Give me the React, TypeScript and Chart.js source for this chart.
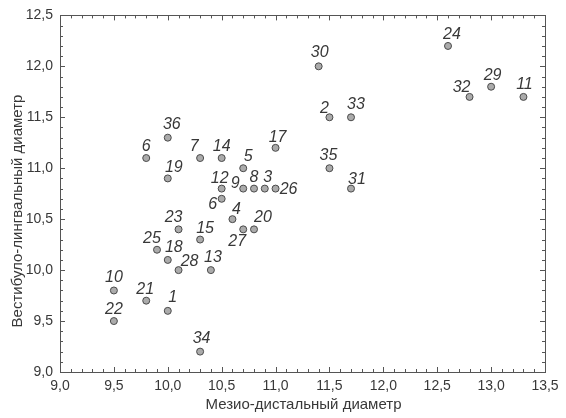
import React, { useEffect, useRef } from "react";
import { Chart, registerables } from "chart.js";

Chart.register(...registerables);

// ---- data ----
const POINT_LABELS = ["1","2","3","4","5","6","6","7","8","9","10","11","12","13","14","15","17","18","19","20","21","22","23","24","25","26","27","28","29","30","31","32","33","34","35","36"];
const X_VALUES = [10.0,11.5,10.9,10.6,10.7,9.8,10.5,10.3,10.8,10.7,9.5,13.3,10.5,10.4,10.5,10.3,11.0,10.0,10.0,10.8,9.8,9.5,10.1,12.6,9.9,11.0,10.7,10.1,13.0,11.4,11.7,12.8,11.7,10.3,11.5,10.0];
const Y_VALUES = [9.6,11.5,10.8,10.5,11.0,11.1,10.7,11.1,10.8,10.8,9.8,11.7,10.8,10.0,11.1,10.3,11.2,10.1,10.9,10.4,9.7,9.5,10.4,12.2,10.2,10.8,10.4,10.0,11.8,12.0,10.8,11.7,11.5,9.2,11.0,11.3];
const X_TICKS = [9.0,9.5,10.0,10.5,11.0,11.5,12.0,12.5,13.0,13.5];
const Y_TICKS = [9.0,9.5,10.0,10.5,11.0,11.5,12.0,12.5];
const X_TITLE = "Мезио-дистальный диаметр";
const Y_TITLE = "Вестибуло-лингвальный диаметр";

// ---- label placement (style, relative offsets in px: [dx, baseline dy]) ----
const LABEL_OFFSETS: [number, number][] = [
  [5,-8.6],[-5,-4.6],[3,-6.6],[4,-5],[5,-7],[0,-6.7],[-9,10],[-6,-6.7],[0,-6.6],[-8,-1],
  [0,-8],[1,-8],[-2,-6],[2,-8],[0,-6.7],[5,-7],[2,-6.3],[6,-7.6],[6,-6],[9,-7],
  [-1,-7],[0,-7],[-5,-7],[4,-7],[-5,-7],[13,5],[-6,17],[11,-4],[1.5,-7],[1,-9],
  [6,-5],[-8,-4.6],[5,-8.6],[1.5,-8.6],[-1,-8.4],[4,-8.7]
];

const FONT = "'Liberation Sans', Arial, sans-serif";
const AXIS_COLOR = "#555555";
const TEXT_COLOR = "#383838";

const fmt = (v: number) => v.toFixed(1).replace(".", ",");

const framePlugin = {
  id: "frameAndLabels",
  beforeDatasetsDraw(chart: any) {
    const { ctx, chartArea: a, scales } = chart;
    const xs = scales.x, ys = scales.y;
    ctx.save();
    ctx.strokeStyle = AXIS_COLOR;
    ctx.lineWidth = 1;
    ctx.strokeRect(Math.round(a.left) + 0.5, Math.round(a.top) + 0.5, Math.round(a.right - a.left), Math.round(a.bottom - a.top));
    ctx.beginPath();
    for (let i = 0; i <= 45; i++) {
      const v = 9 + i * 0.1;
      const major = i % 5 === 0;
      const len = major ? 5 : 3;
      const px = Math.round(xs.getPixelForValue(v)) + 0.5;
      ctx.moveTo(px, a.bottom); ctx.lineTo(px, a.bottom - len);
      ctx.moveTo(px, a.top); ctx.lineTo(px, a.top + len);
    }
    for (let i = 0; i <= 35; i++) {
      const v = 9 + i * 0.1;
      const major = i % 5 === 0;
      const len = major ? 5 : 3;
      const py = Math.round(ys.getPixelForValue(v)) + 0.5;
      ctx.moveTo(a.left, py); ctx.lineTo(a.left + len, py);
      ctx.moveTo(a.right, py); ctx.lineTo(a.right - len, py);
    }
    ctx.stroke();

    // axis titles
    ctx.fillStyle = TEXT_COLOR;
    ctx.font = `15px ${FONT}`;
    ctx.textAlign = "center";
    ctx.textBaseline = "middle";
    ctx.fillText(X_TITLE, (a.left + a.right) / 2 + 1, 405);
    ctx.translate(18, 211);
    ctx.rotate(-Math.PI / 2);
    ctx.fillText(Y_TITLE, 0, 0);
    ctx.restore();
  },
  afterDatasetsDraw(chart: any) {
    const { ctx } = chart;
    const meta = chart.getDatasetMeta(0);
    ctx.save();
    ctx.fillStyle = TEXT_COLOR;
    ctx.font = `italic 16px ${FONT}`;
    ctx.textAlign = "center";
    ctx.textBaseline = "alphabetic";
    meta.data.forEach((el: any, i: number) => {
      const [dx, dy] = LABEL_OFFSETS[i] || [3, -8];
      ctx.fillText(POINT_LABELS[i], el.x + dx, el.y + dy);
    });
    ctx.restore();
  },
};

export default function App() {
  const ref = useRef<HTMLCanvasElement | null>(null);
  useEffect(() => {
    if (!ref.current) return;
    const data = X_VALUES.map((x, i) => ({ x, y: Y_VALUES[i] }));
    const chart = new Chart(ref.current, {
      type: "scatter",
      data: {
        datasets: [
          {
            data,
            pointRadius: 3.5,
            pointHoverRadius: 3.5,
            pointBackgroundColor: "#ababab",
            pointBorderColor: "#4a4a4a",
            pointBorderWidth: 1,
          },
        ],
      },
      options: {
        responsive: false,
        animation: false,
        events: [],
        layout: { padding: { top: 14, right: 21, left: 0, bottom: 0 } },
        plugins: { legend: { display: false }, tooltip: { enabled: false } },
        scales: {
          x: {
            type: "linear",
            min: 9,
            max: 13.5,
            afterBuildTicks: (s: any) => { s.ticks = X_TICKS.map((v) => ({ value: v })); },
            afterFit: (s: any) => { s.height = 46; },
            grid: { display: false, drawTicks: false },
            border: { display: false },
            ticks: {
              autoSkip: false,
              maxRotation: 0,
              padding: 6,
              color: TEXT_COLOR,
              font: { family: FONT, size: 14 },
              callback: (v: any) => fmt(Number(v)),
            },
          },
          y: {
            type: "linear",
            min: 9,
            max: 12.5,
            afterBuildTicks: (s: any) => { s.ticks = Y_TICKS.map((v) => ({ value: v })); },
            afterFit: (s: any) => { s.width = 60; },
            grid: { display: false, drawTicks: false },
            border: { display: false },
            ticks: {
              autoSkip: false,
              padding: 7,
              color: TEXT_COLOR,
              font: { family: FONT, size: 14 },
              callback: (v: any) => fmt(Number(v)),
            },
          },
        },
      },
      plugins: [framePlugin],
    });
    return () => chart.destroy();
  }, []);
  return (
    <div style={{ position: "fixed", left: 0, top: 0, width: 566, height: 418, background: "#fff" }}>
      <canvas ref={ref} width={566} height={418} />
    </div>
  );
}
